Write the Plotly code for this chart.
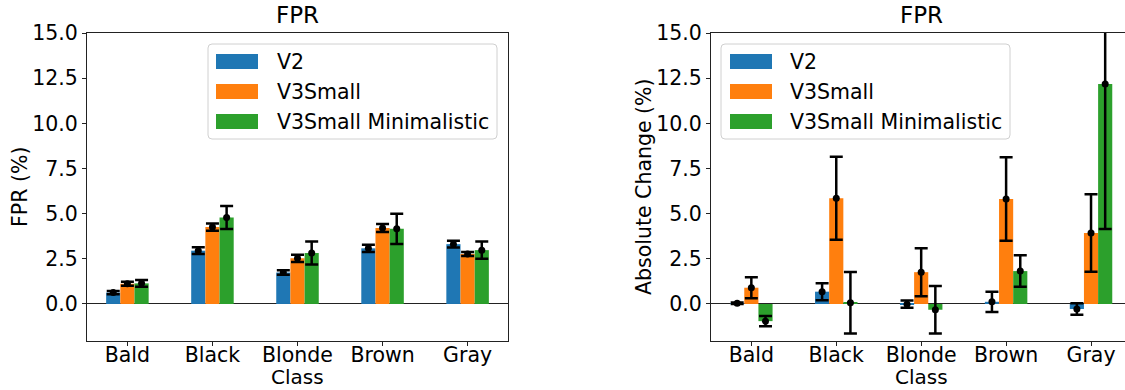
import plotly.graph_objects as go

# ---------------- data ----------------
classes = ["Bald", "Black", "Blonde", "Brown", "Gray"]
series_names = ["V2", "V3Small", "V3Small Minimalistic"]
series_colors = ["#1f77b4", "#ff7f0e", "#2ca02c"]

fpr_v2 = [0.63, 2.95, 1.74, 3.08, 3.31]
fpr_v2_err = [0.09, 0.19, 0.12, 0.20, 0.19]
fpr_v3s = [1.12, 4.26, 2.53, 4.21, 2.77]
fpr_v3s_err = [0.11, 0.20, 0.20, 0.22, 0.11]
fpr_min = [1.14, 4.79, 2.82, 4.16, 2.98]
fpr_min_err = [0.18, 0.64, 0.64, 0.84, 0.48]

chg_v2 = [0.04, 0.68, -0.01, 0.12, -0.28]
chg_v2_err = [0.04, 0.47, 0.20, 0.56, 0.32]
chg_v3s = [0.90, 5.85, 1.76, 5.81, 3.93]
chg_v3s_err = [0.58, 2.30, 1.33, 2.31, 2.15]
chg_min = [-0.95, 0.07, -0.32, 1.82, 12.18]
chg_min_err = [0.28, 1.70, 1.32, 0.87, 8.03]

y_ticks = [0.0, 2.5, 5.0, 7.5, 10.0, 12.5, 15.0]

left_vals = [fpr_v2, fpr_v3s, fpr_min]
left_errs = [fpr_v2_err, fpr_v3s_err, fpr_min_err]
right_vals = [chg_v2, chg_v3s, chg_min]
right_errs = [chg_v2_err, chg_v3s_err, chg_min_err]

# ---------------- layout helpers ----------------
W, H = 1125, 390
FONT = "DejaVu Sans"
FS = 20.5
FS_TITLE = 23

# plot area pixel geometry
L_x0, L_x1 = 87, 508
R_x0, R_x1 = 711, 1125
Y_top, Y_bot = 33, 341
M_T, M_B = Y_top, H - Y_bot
PH = Y_bot - Y_top


def px(x):
    return x / W


def py(y):
    # paper y relative to plot area (margins t/b)
    return (Y_bot - y) / PH


bar_w = 1.0 / 6.0
offsets = [-bar_w, 0.0, bar_w]

fig = go.Figure()

for panel, (vals, errs) in enumerate([(left_vals, left_errs), (right_vals, right_errs)]):
    xa = "x" if panel == 0 else "x2"
    ya = "y" if panel == 0 else "y2"
    for k in range(3):
        xs = [i + offsets[k] for i in range(len(classes))]
        fig.add_trace(go.Bar(
            x=xs, y=vals[k], width=bar_w, name=series_names[k],
            marker=dict(color=series_colors[k], line=dict(width=0)),
            xaxis=xa, yaxis=ya, showlegend=False,
        ))
    for k in range(3):
        xs = [i + offsets[k] for i in range(len(classes))]
        fig.add_trace(go.Scatter(
            x=xs, y=vals[k], mode="markers",
            marker=dict(color="black", size=7),
            error_y=dict(type="data", array=errs[k], color="black",
                         thickness=2.5, width=6.5),
            xaxis=xa, yaxis=ya, showlegend=False,
        ))

axis_common = dict(
    showgrid=False, showline=True, linecolor="#222", linewidth=1,
    ticks="outside", ticklen=4, tickwidth=1, tickcolor="#222",
    tickfont=dict(family=FONT, size=FS, color="black"),
    automargin=False,
)

fig.update_layout(
    width=W, height=H,
    margin=dict(l=0, r=0, t=M_T, b=M_B, autoexpand=False),
    paper_bgcolor="white", plot_bgcolor="white",
    barmode="overlay",
    font=dict(family=FONT, size=FS, color="black"),
    xaxis=dict(domain=[px(L_x0), px(L_x1)], range=[-0.475, 4.475],
               tickvals=list(range(len(classes))), ticktext=classes,
               mirror=True, anchor="y", zeroline=False, **axis_common),
    yaxis=dict(domain=[0, 1], range=[-2.05, 15.0],
               tickvals=y_ticks, tickformat=".1f",
               mirror=True, anchor="x",
               zeroline=True, zerolinecolor="#222", zerolinewidth=1.3,
               **axis_common),
    xaxis2=dict(domain=[px(R_x0), px(R_x1)], range=[-0.475, 4.40],
                tickvals=list(range(len(classes))), ticktext=classes,
                mirror=True, anchor="y2", zeroline=False, **axis_common),
    yaxis2=dict(domain=[0, 1], range=[-2.05, 15.0],
                tickvals=y_ticks, tickformat=".1f",
                mirror=False, anchor="x2",
                zeroline=True, zerolinecolor="#222", zerolinewidth=1.3,
                **axis_common),
)

# pull the category labels slightly closer to the axis, if supported
try:
    fig.update_xaxes(ticklabelstandoff=-9)
except Exception:
    pass

txt_font = dict(family=FONT, size=FS, color="black")

# titles and axis labels
for cx in [(L_x0 + L_x1) / 2, (R_x0 + 1132) / 2]:
    fig.add_annotation(x=px(cx), y=py(Y_top - 3), xref="paper", yref="paper",
                       text="FPR", showarrow=False, xanchor="center", yanchor="bottom",
                       font=dict(family=FONT, size=FS_TITLE, color="black"))
    fig.add_annotation(x=px(cx), y=py(390), xref="paper", yref="paper",
                       text="Class", showarrow=False, xanchor="center", yanchor="bottom",
                       borderpad=0, font=dict(family=FONT, size=20, color="black"))

fig.add_annotation(x=px(20), y=py(187), xref="paper", yref="paper",
                   text="FPR (%)", showarrow=False, textangle=-90,
                   xanchor="center", yanchor="middle", font=txt_font)
fig.add_annotation(x=px(644), y=py(187), xref="paper", yref="paper",
                   text="Absolute Change (%)", showarrow=False, textangle=-90,
                   xanchor="center", yanchor="middle", font=txt_font)


# manual matplotlib-style legends
def rounded_rect(x0, y0, x1, y1, r):
    X = lambda v: px(v)
    Y = lambda v: py(v)
    return (f"M {X(x0 + r)} {Y(y0)} L {X(x1 - r)} {Y(y0)} "
            f"Q {X(x1)} {Y(y0)} {X(x1)} {Y(y0 + r)} L {X(x1)} {Y(y1 - r)} "
            f"Q {X(x1)} {Y(y1)} {X(x1 - r)} {Y(y1)} L {X(x0 + r)} {Y(y1)} "
            f"Q {X(x0)} {Y(y1)} {X(x0)} {Y(y1 - r)} L {X(x0)} {Y(y0 + r)} "
            f"Q {X(x0)} {Y(y0)} {X(x0 + r)} {Y(y0)} Z")


legend_boxes = [(208, 497, 216, 275), (721, 1010, 730, 788)]
row_centers = [61.5, 91.5, 121.5]
for bx0, bx1, sx0, tx0 in legend_boxes:
    fig.add_shape(type="path", path=rounded_rect(bx0, 44, bx1, 139, 4),
                  xref="paper", yref="paper",
                  fillcolor="rgba(255,255,255,0.8)", line=dict(color="#d0d0d0", width=1))
    for k, cy in enumerate(row_centers):
        fig.add_shape(type="rect", xref="paper", yref="paper",
                      x0=px(sx0), x1=px(sx0 + 42), y0=py(cy + 7.5), y1=py(cy - 7.5),
                      fillcolor=series_colors[k], line=dict(width=0))
        fig.add_annotation(x=px(tx0), y=py(cy), xref="paper", yref="paper",
                           text=series_names[k], showarrow=False,
                           xanchor="left", yanchor="middle",
                           font=txt_font)

fig.write_html("out.html")
